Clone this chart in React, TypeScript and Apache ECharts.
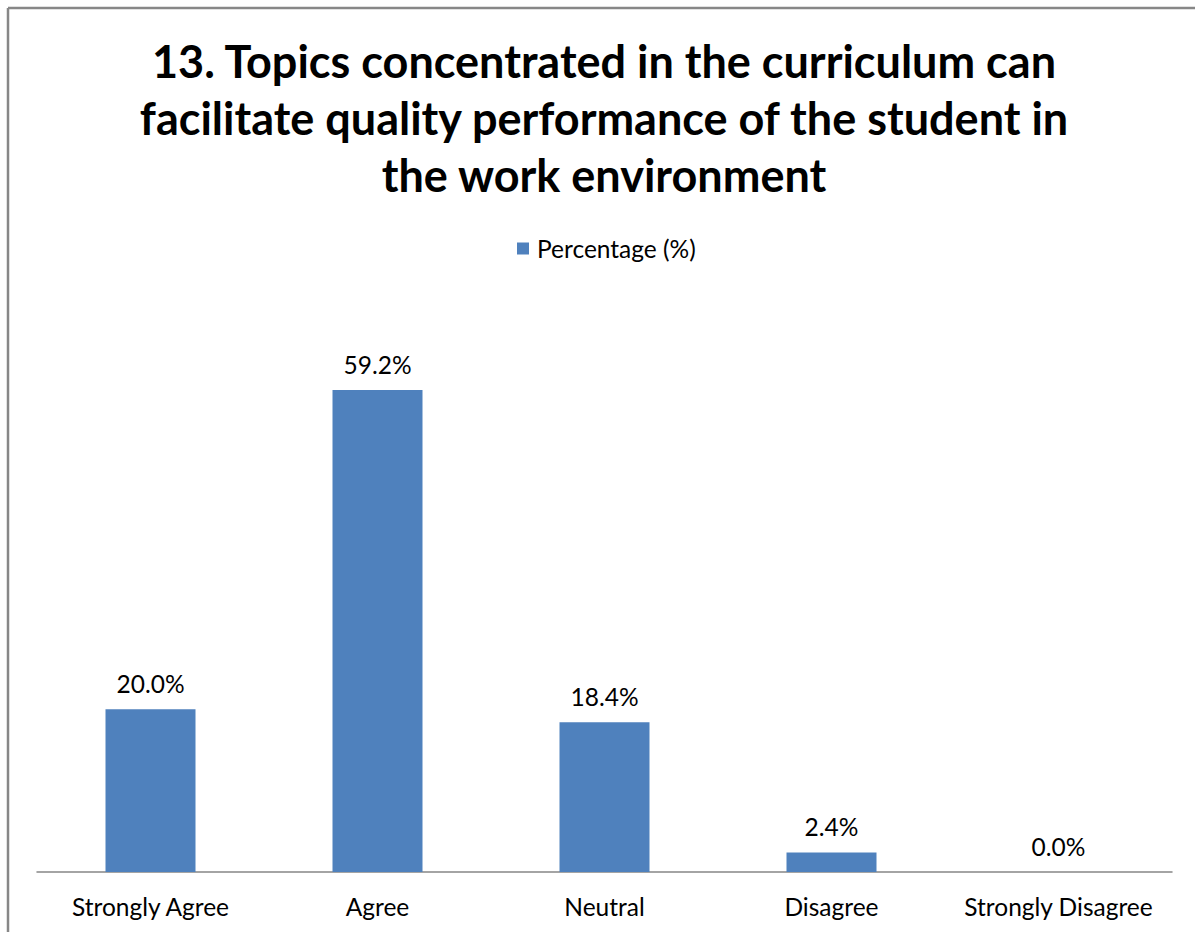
import React, { useEffect, useRef } from "react";
import * as echarts from "echarts";

const titleLines = [
  "13. Topics concentrated in the curriculum can",
  "facilitate quality performance of the student in",
  "the work environment",
];
const categories = ["Strongly Agree", "Agree", "Neutral", "Disagree", "Strongly Disagree"];
const seriesName = "Percentage (%)";
const percentages = [20.0, 59.2, 18.4, 2.4, 0.0];

const FONT = "Lato";

export default function App() {
  const ref = useRef<HTMLDivElement>(null);
  useEffect(() => {
    if (!ref.current) return;
    const chart = echarts.init(ref.current, undefined, { renderer: "svg" });
    chart.setOption({
      animation: false,
      backgroundColor: "#ffffff",
      title: {
        text: titleLines.join("\n"),
        left: 599,
        textAlign: "center",
        top: 27,
        textStyle: {
          fontFamily: FONT,
          fontWeight: "bold",
          fontSize: 45,
          lineHeight: 57,
          color: "#000000",
        },
      },
      legend: {
        data: [seriesName],
        left: 512,
        top: 231,
        itemWidth: 12,
        itemHeight: 12,
        icon: "rect",
        itemGap: 8,
        textStyle: { fontFamily: FONT, fontSize: 24.5, color: "#000000", padding: [0, 0, 0, 3] },
      },
      grid: { left: 37, right: 23, top: 302, bottom: 60, containLabel: false },
      xAxis: {
        type: "category",
        data: categories,
        axisLine: { show: true, lineStyle: { color: "#868686", width: 1.5 } },
        axisTick: { show: false },
        axisLabel: { fontFamily: FONT, fontSize: 24.5, color: "#000000", margin: 22, interval: 0 },
      },
      yAxis: {
        type: "value",
        min: 0,
        max: 70,
        show: false,
        splitLine: { show: false },
      },
      series: [
        {
          name: seriesName,
          type: "bar",
          data: percentages,
          barWidth: 90,
          itemStyle: { color: "#4F81BD" },
          label: {
            show: true,
            position: "top",
            distance: 13,
            fontFamily: FONT,
            fontSize: 24.5,
            color: "#000000",
            formatter: (p: any) => p.value.toFixed(1) + "%",
          },
        },
      ],
      graphic: [
        { type: "line", shape: { x1: 8, y1: 8, x2: 1195, y2: 8 }, style: { stroke: "#878787", lineWidth: 2.5 } },
        { type: "line", shape: { x1: 8, y1: 8, x2: 8, y2: 932 }, style: { stroke: "#878787", lineWidth: 2.5 } },
      ],
    });
    return () => chart.dispose();
  }, []);
  return (
    <div
      ref={ref}
      style={{ position: "fixed", left: 0, top: 0, width: 1195, height: 932, background: "#fff" }}
    />
  );
}
